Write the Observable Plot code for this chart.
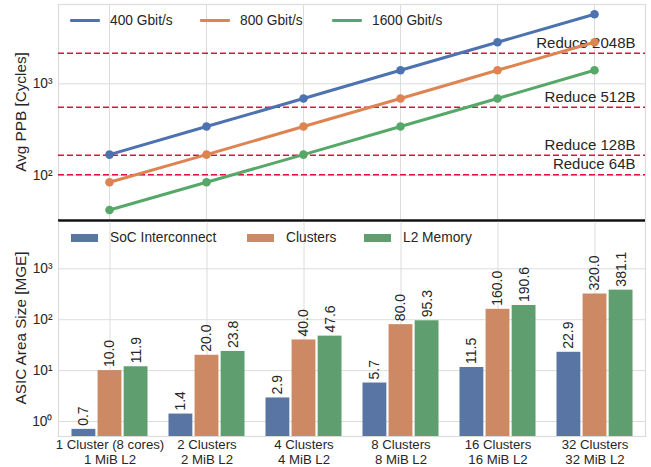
<!DOCTYPE html>
<html><head><meta charset="utf-8">
<script src="https://cdn.jsdelivr.net/npm/d3@7"></script>
<script src="https://cdn.jsdelivr.net/npm/@observablehq/plot@0.6"></script>
<style>
body{margin:0;background:#fff;font-family:"Liberation Sans",Arial,sans-serif;color:#262626;}
#wrap{position:relative;width:651px;height:467px;overflow:hidden;background:#fff;}
#top,#bot{position:absolute;left:0;}
#top{top:0;} #bot{top:218px;}
.item{position:absolute;display:flex;align-items:center;font-size:13.75px;white-space:nowrap;line-height:1;}
.ytitle{position:absolute;font-size:15.3px;white-space:nowrap;transform:translate(-50%,-50%) rotate(-90deg);line-height:1;}
</style></head><body>
<div id="wrap"><div id="top"></div><div id="bot"></div><div id="overlay"></div></div>
<script>
// ---- data ----
const categories = ["1 Cluster (8 cores)\n1 MiB L2","2 Clusters\n2 MiB L2","4 Clusters\n4 MiB L2","8 Clusters\n8 MiB L2","16 Clusters\n16 MiB L2","32 Clusters\n32 MiB L2"];
const lineSeries = ["400 Gbit/s","800 Gbit/s","1600 Gbit/s"];
const ppb400 = [169, 342, 691, 1407, 2840, 5740];
const ppb800 = [84.5, 169, 342, 691, 1407, 2840];
const ppb1600 = [42, 84.5, 169, 342, 691, 1407];
const reduceLabels = ["Reduce 2048B","Reduce 512B","Reduce 128B","Reduce 64B"];
const reduceValues = [2157, 556, 166, 102];
const barSeries = ["SoC Interconnect","Clusters","L2 Memory"];
const socArea = [0.7, 1.4, 2.9, 5.7, 11.5, 22.9];
const clusterArea = [10.0, 20.0, 40.0, 80.0, 160.0, 320.0];
const l2Area = [11.9, 23.8, 47.6, 95.3, 190.6, 381.1];
const ppbTicks = [100, 1000];
const areaTicks = [1, 10, 100, 1000];
const ppbDomain = [32.3, 7330];
const areaDomain = [0.507, 8900];

// ---- styles ----
const lineColors = ["#4c72b0","#dd8452","#55a868"];
const barColors = ["#5975a4","#cc8963","#5f9e6e"];
const gridColor = "#dcdcdc";
const textColor = "#262626";
const W = 651, ML = 58, MR = 6;
const supMap = {"0":"⁰","1":"¹","2":"²","3":"³","4":"⁴"};
const sup = d => "10" + supMap[String(Math.round(Math.log10(d)))];
const font = "'Liberation Sans', Arial, sans-serif";

const lineData = lineSeries.flatMap((s, k) => [ppb400, ppb800, ppb1600][k].map((v, i) => ({cat: categories[i], series: s, v})));
const reduceData = reduceLabels.map((l, i) => ({label: l, v: reduceValues[i]}));

const topPlot = Plot.plot({
  width: W, height: 222, marginLeft: ML, marginRight: MR, marginTop: 4, marginBottom: 2,
  style: {fontFamily: font, fontSize: "13.75px", color: textColor, background: "transparent"},
  x: {type: "point", domain: categories, padding: 0.5, axis: null},
  y: {type: "log", domain: ppbDomain, axis: null},
  color: {domain: lineSeries, range: lineColors},
  marks: [
    Plot.ruleX(categories, {x: d => d, stroke: gridColor, strokeWidth: 1}),
    Plot.ruleY(ppbTicks, {y: d => d, stroke: gridColor, strokeWidth: 1}),
    Plot.frame({stroke: gridColor, strokeWidth: 1.2}),
    Plot.axisY({ticks: ppbTicks, tickFormat: sup, tickSize: 0, tickPadding: 6, fontSize: 13.75, label: null, fill: textColor}),
    Plot.ruleY(reduceData, {y: "v", stroke: "#dc143c", strokeWidth: 1.5, strokeDasharray: "6,3"}),
    Plot.text(reduceData, {y: "v", text: "label", frameAnchor: "right", textAnchor: "end", dx: -10, dy: -10.5, lineAnchor: "middle", fontSize: 15, fill: textColor}),
    Plot.line(lineData, {x: "cat", y: "v", z: "series", stroke: "series", strokeWidth: 3}),
    Plot.dot(lineData, {x: "cat", y: "v", fill: "series", r: 4.3}),
    Plot.ruleY([ppbDomain[0]], {y: d => d, stroke: "#111", strokeWidth: 2.2})
  ]
});
document.getElementById("top").append(topPlot);

const step = (W - ML - MR) / categories.length;
const pad = 0.1 * step;
const bw = 0.8 * step / 3;
const barArrays = [socArea, clusterArea, l2Area];
const barMarks = [];
barSeries.forEach((s, k) => {
  const data = categories.map((c, i) => ({cat: c, v: barArrays[k][i]}));
  barMarks.push(Plot.barY(data, {x: "cat", y1: d => areaDomain[0], y2: "v", fill: barColors[k],
    insetLeft: pad + k * bw + 0.7, insetRight: step - pad - (k + 1) * bw + 0.7}));
  barMarks.push(Plot.text(data, {x: "cat", y: "v", text: d => d.v.toFixed(1), rotate: -90, textAnchor: "start", lineAnchor: "middle",
    dx: (k - 1) * bw, dy: -3.5, fontSize: 14, fill: textColor}));
});

const botPlot = Plot.plot({
  width: W, height: 249, marginLeft: ML, marginRight: MR, marginTop: 2, marginBottom: 31,
  style: {fontFamily: font, fontSize: "13.75px", color: textColor, background: "transparent"},
  x: {type: "band", domain: categories, padding: 0, axis: null},
  y: {type: "log", domain: areaDomain, axis: null},
  marks: [
    Plot.gridX({stroke: gridColor, strokeOpacity: 1, strokeWidth: 1}),
    Plot.ruleY(areaTicks, {y: d => d, stroke: gridColor, strokeWidth: 1}),
    Plot.frame({stroke: gridColor, strokeWidth: 1.2}),
    Plot.axisY({ticks: areaTicks, tickFormat: sup, tickSize: 0, tickPadding: 6, fontSize: 13.75, label: null, fill: textColor}),
    Plot.axisX({tickSize: 0, tickPadding: 2.5, fontSize: 13.2, label: null, fill: textColor, lineHeight: 1.1}),
    ...barMarks,
    Plot.ruleY([areaDomain[1]], {y: d => d, stroke: "#111", strokeWidth: 2.2})
  ]
});
document.getElementById("bot").append(botPlot);

// ---- legends & axis titles (HTML) ----
const ov = document.getElementById("overlay");
const topLegendX = [70, 200, 332];
lineSeries.forEach((s, k) => {
  const el = document.createElement("div");
  el.className = "item";
  el.style.left = topLegendX[k] + "px"; el.style.top = "14px";
  el.innerHTML = `<span style="display:inline-block;width:30px;height:3px;background:${lineColors[k]};margin-right:10px;border-radius:1px"></span><span>${s}</span>`;
  ov.append(el);
});
const botLegendX = [71, 247, 364];
barSeries.forEach((s, k) => {
  const el = document.createElement("div");
  el.className = "item";
  el.style.left = botLegendX[k] + "px"; el.style.top = "231px";
  el.innerHTML = `<span style="display:inline-block;width:27px;height:8.5px;background:${barColors[k]};margin-right:12px"></span><span>${s}</span>`;
  ov.append(el);
});
[["Avg PPB [Cycles]", 112], ["ASIC Area Size [MGE]", 328]].forEach(([t, cy]) => {
  const el = document.createElement("div");
  el.className = "ytitle";
  el.style.left = "21px"; el.style.top = cy + "px";
  el.textContent = t;
  ov.append(el);
});
</script>
</body></html>
